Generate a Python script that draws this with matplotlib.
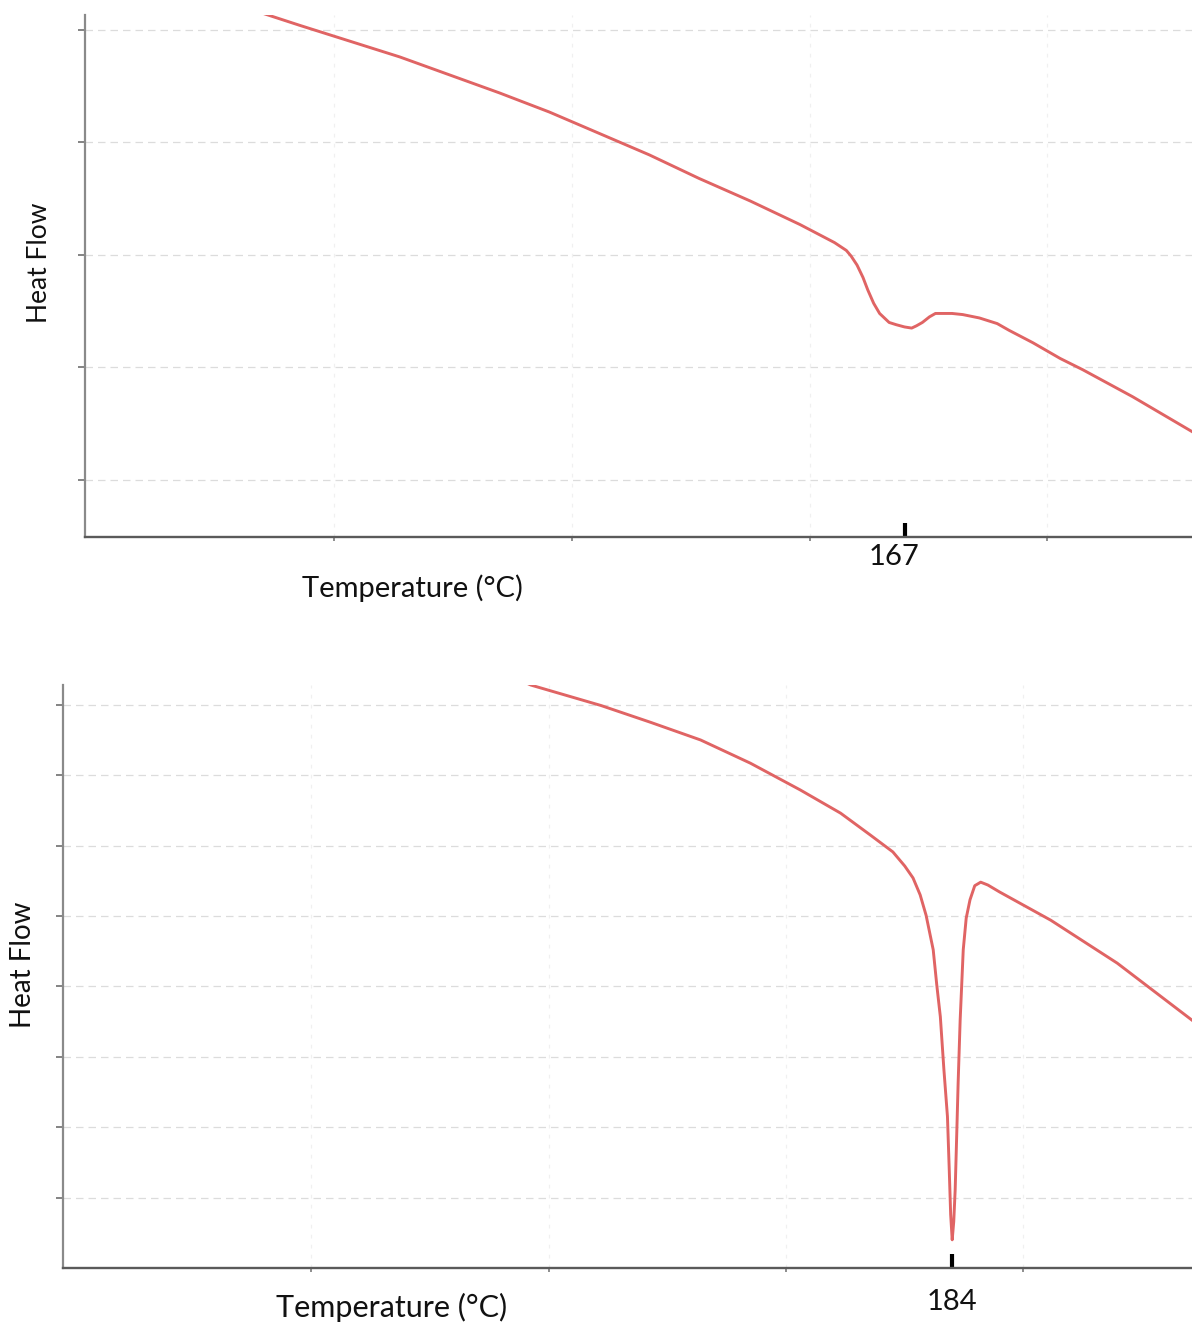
import matplotlib.pyplot as plt
from matplotlib.transforms import ScaledTranslation

plt.rcParams['font.family'] = ['Lato', 'DejaVu Sans']

# first DSC scan (upper panel)
temp_a = [112.3, 112.9, 116.1, 120.3, 124.5, 128.7, 132.9, 137.1, 141.3, 145.5,
          149.7, 154.0, 158.2, 161.1, 162.1, 162.5, 163.0, 163.5, 163.9, 164.4,
          164.9, 165.3, 165.7, 166.3, 167.0, 167.6, 168.0, 168.5, 169.1, 169.6,
          170.2, 171.0, 171.9, 173.3, 174.8, 175.8, 177.8, 180.1, 182.0, 186.2,
          191.2]
flow_a = [5.17, 5.15, 5.04, 4.90, 4.76, 4.60, 4.44, 4.27, 4.08, 3.89,
          3.68, 3.48, 3.27, 3.11, 3.04, 2.99, 2.91, 2.80, 2.69, 2.57,
          2.48, 2.44, 2.40, 2.38, 2.36, 2.35, 2.37, 2.40, 2.45, 2.48,
          2.48, 2.48, 2.47, 2.44, 2.39, 2.33, 2.22, 2.08, 1.98, 1.74,
          1.43]
peak_a = 167

# second DSC scan (lower panel)
temp_b = [147.6, 148.5, 154.4, 158.6, 162.8, 167.0, 171.2, 174.6, 177.1, 179.0,
          180.0, 180.7, 181.3, 181.8, 182.4, 182.7, 183.0, 183.3, 183.6, 183.75,
          183.87, 184.0, 184.13, 184.25, 184.38, 184.5, 184.67, 184.93, 185.18, 185.5,
          185.9, 186.4, 187.0, 188.0, 192.3, 197.9, 204.2]
flow_b = [8.35, 8.28, 7.99, 7.75, 7.50, 7.17, 6.79, 6.46, 6.15, 5.91,
          5.71, 5.54, 5.30, 5.01, 4.52, 4.02, 3.57, 2.82, 2.15, 1.40,
          0.76, 0.40, 0.66, 1.11, 1.89, 2.63, 3.52, 4.52, 4.97, 5.23,
          5.43, 5.48, 5.44, 5.34, 4.94, 4.33, 3.52]
peak_b = 184

minor_a = [119, 139, 159, 179]
minor_b = [130, 150, 170, 190]
yticks_a = [1, 2, 3, 4, 5]
yticks_b = [1, 2, 3, 4, 5, 6, 7, 8]

fig = plt.figure(figsize=(11.92, 13.24), dpi=100)
ax1 = fig.add_axes([0.0713, 0.5944, 0.9287, 0.3943])
ax2 = fig.add_axes([0.0529, 0.0423, 0.9471, 0.4403])

red = '#e06464'
grey = '#7a7a7a'


def style(ax, temps, flows, peak, minors, yt, xlim, ylim, lpad, lshift, fs,
          xlab_xy, ylab_xy):
    ax.plot(temps, flows, color=red, lw=2.1, solid_joinstyle='round')
    ax.set_xlim(*xlim)
    ax.set_ylim(*ylim)
    for s in ['top', 'right']:
        ax.spines[s].set_visible(False)
    ax.spines['left'].set_color('#8a8a8a')
    ax.spines['left'].set_linewidth(1.6)
    ax.spines['bottom'].set_color('#5a5a5a')
    ax.spines['bottom'].set_linewidth(1.7)
    ax.set_yticks(yt)
    ax.set_yticklabels([])
    ax.tick_params(axis='y', length=5, width=1.3, color=grey, direction='out')
    ax.set_xticks([peak])
    ax.set_xticklabels([str(peak)], fontsize=21)
    ax.tick_params(axis='x', which='major', direction='in', length=10, width=3,
                   color='black', pad=lpad, labelcolor='#111111')
    for lab in ax.get_xticklabels():
        lab.set_transform(lab.get_transform() + ScaledTranslation(lshift / 100, 0, fig.dpi_scale_trans))
    ax.set_xticks(minors, minor=True)
    ax.tick_params(axis='x', which='minor', direction='out', length=3, width=1.2, color=grey)
    for v in yt:
        ax.axhline(v, color='#dcdcdc', lw=0.9, ls=(0, (6, 4)), zorder=0)
    for v in minors:
        ax.axvline(v, color='#f0f0f0', lw=0.9, ls=(0, (3, 5)), zorder=0)
    ax.set_xlabel('Temperature (°C)', fontsize=fs + 2, color='#111111')
    ax.xaxis.set_label_coords(*xlab_xy)
    ax.set_ylabel('Heat Flow', fontsize=fs, color='#111111')
    ax.yaxis.set_label_coords(*ylab_xy)


style(ax1, temp_a, flow_a, peak_a, minor_a, yticks_a, (98.0, 191.2), (0.493, 5.133),
      5, -11, 19, (0.296, -0.072), (-0.030, 0.525))
style(ax2, temp_b, flow_b, peak_b, minor_b, yticks_b, (109.1, 204.2), (0.0, 8.28),
      15, 0, 20, (0.291, -0.042), (-0.024, 0.52))

fig.savefig('out.png', dpi=100)
